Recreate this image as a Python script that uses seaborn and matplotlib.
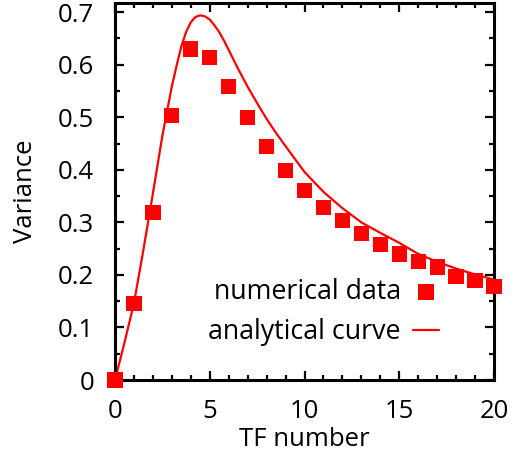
import matplotlib
matplotlib.use("Agg")
import matplotlib.pyplot as plt
import seaborn as sns
import pandas as pd

# Numerical variance per TF number
tf_number = list(range(21))
variance_numerical = [0.000, 0.145, 0.319, 0.503, 0.630, 0.614, 0.559, 0.500, 0.444,
                      0.398, 0.361, 0.329, 0.303, 0.279, 0.258, 0.240, 0.225, 0.215,
                      0.197, 0.189, 0.178]

# Analytical curve, sampled along the TF axis
curve_x = [0, 0.5, 1, 1.5, 2, 2.5, 3, 3.25, 3.5, 3.75, 4, 4.25, 4.5, 4.75, 5, 5.25,
           5.5, 5.75, 6, 6.5, 7, 7.5, 8, 8.5, 9, 10, 11, 12, 13, 14, 15, 16, 17, 18,
           19, 20]
curve_y = [0.000, 0.071, 0.146, 0.248, 0.355, 0.465, 0.559, 0.598, 0.635, 0.662,
           0.681, 0.691, 0.694, 0.692, 0.686, 0.675, 0.662, 0.646, 0.628, 0.592,
           0.558, 0.527, 0.497, 0.470, 0.445, 0.396, 0.358, 0.327, 0.300, 0.280,
           0.261, 0.240, 0.225, 0.212, 0.201, 0.191]

x_ticks = [0, 5, 10, 15, 20]
y_ticks = [0, 0.1, 0.2, 0.3, 0.4, 0.5, 0.6, 0.7]

sns.set_style("ticks")
plt.rcParams["font.family"] = ["Open Sans", "DejaVu Sans"]
plt.rcParams["text.color"] = "black"
plt.rcParams["axes.labelcolor"] = "black"

df_num = pd.DataFrame({"tf": tf_number, "var": variance_numerical})
df_curve = pd.DataFrame({"tf": curve_x, "var": curve_y})

fig = plt.figure(figsize=(5.14, 4.63), dpi=100)
ax = fig.add_axes([115 / 514, 1 - 380 / 463, (494 - 115) / 514, (380 - 3) / 463])

sns.lineplot(data=df_curve, x="tf", y="var", ax=ax, color="#ff0000", linewidth=1.6,
             label="analytical curve", zorder=2, sort=False)
sns.scatterplot(data=df_num, x="tf", y="var", ax=ax, marker="s", s=120, color="#ff0000",
                edgecolor="none", linewidth=0, label="numerical data", zorder=3,
                clip_on=False)

ax.set_xlim(0, 20)
ax.set_ylim(0, 0.7175)
ax.set_xticks(x_ticks)
ax.set_xticklabels([str(t) for t in x_ticks])
ax.set_yticks(y_ticks)
ax.set_yticklabels(["0"] + [f"{t:.1f}" for t in y_ticks[1:]])
ax.set_xticks([i for i in range(21) if i % 5], minor=True)
ax.set_yticks([0.05 + 0.1 * i for i in range(7)], minor=True)

for side in ["top", "right", "bottom", "left"]:
    ax.spines[side].set_visible(True)
    ax.spines[side].set_linewidth(2.2)
    ax.spines[side].set_color("black")

ax.tick_params(which="both", direction="in", top=True, right=True, width=1.6,
               color="black", labelsize=18.5, labelcolor="black")
ax.tick_params(axis="y", which="major", length=6.5, pad=15)
ax.tick_params(axis="x", which="major", length=6.5, pad=14)
ax.tick_params(which="minor", length=3.5)

ax.set_xlabel("TF number", fontsize=18.5, labelpad=2)
ax.set_ylabel("Variance", fontsize=18.5, labelpad=14)

handles, labels = ax.get_legend_handles_labels()
order = [labels.index("numerical data"), labels.index("analytical curve")]
ax.legend([handles[i] for i in order], [labels[i] for i in order],
          loc="center right", bbox_to_anchor=(439 / 514, 1 - 312 / 463),
          bbox_transform=fig.transFigure, frameon=False, markerfirst=False,
          fontsize=19.3, handlelength=0.97, handletextpad=0.45, labelspacing=0.45,
          borderpad=0, borderaxespad=0, markerscale=1.0)

fig.savefig("out.png", dpi=100)
